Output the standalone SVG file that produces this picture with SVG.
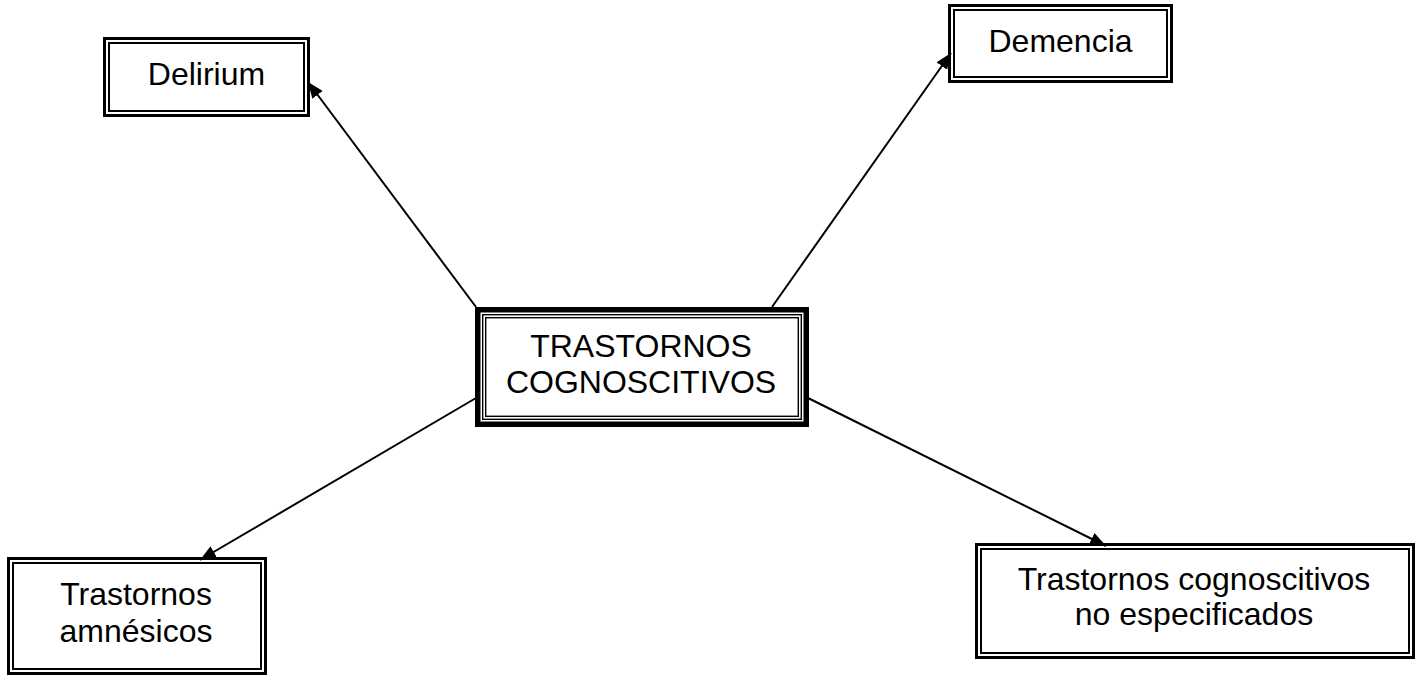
<svg xmlns="http://www.w3.org/2000/svg" width="1425" height="684" viewBox="0 0 1425 684">
  <style>
    .outer { fill: none; stroke: #000; stroke-width: 3; }
    .inner { fill: none; stroke: #000; stroke-width: 2; }
    .thick { fill: #fff; stroke: #000; stroke-width: 5.5; }
    .thin { fill: none; stroke: #000; stroke-width: 1.4; }
    .label { font-family: "Liberation Sans", Arial, sans-serif; font-size: 32px; fill: #000; text-anchor: middle; }
    .edge { stroke: #000; stroke-width: 2; fill: none; marker-end: url(#arrow); }
  </style>
  <defs>
    <marker id="arrow" markerUnits="userSpaceOnUse" markerWidth="18" markerHeight="14" refX="16" refY="6.5" orient="auto">
      <path d="M0,0 L16,6.5 L0,13 Z" fill="#000"/>
    </marker>
  </defs>
  <rect width="1425" height="684" fill="#fff"/>

  <g id="connectors">
    <line class="edge" x1="476" y1="307" x2="308" y2="82"/>
    <line class="edge" x1="772" y1="307" x2="951" y2="53"/>
    <line class="edge" x1="476" y1="398" x2="200" y2="560"/>
    <line class="edge" x1="808" y1="398" x2="1106" y2="546"/>
  </g>

  <g id="center">
    <rect class="thick" x="477.75" y="309.75" width="328.5" height="114.5"/>
    <rect class="thin" x="482.7" y="314.7" width="318.6" height="104.6"/>
    <rect class="thin" x="485.7" y="317.7" width="312.6" height="98.6"/>
    <text class="label" x="641" y="357">TRASTORNOS</text>
    <text class="label" x="641" y="393">COGNOSCITIVOS</text>
  </g>

  <g id="delirium">
    <rect class="outer" x="104.5" y="38.5" width="204" height="77"/>
    <rect class="inner" x="109" y="43" width="195" height="68"/>
    <text class="label" x="206.5" y="85">Delirium</text>
  </g>

  <g id="demencia">
    <rect class="outer" x="949.5" y="5.5" width="222" height="76"/>
    <rect class="inner" x="954" y="10" width="213" height="67"/>
    <text class="label" x="1060.5" y="52">Demencia</text>
  </g>

  <g id="amnesicos">
    <rect class="outer" x="8.5" y="558.5" width="257" height="115"/>
    <rect class="inner" x="13" y="563" width="248" height="106"/>
    <text class="label" x="136" y="605">Trastornos</text>
    <text class="label" x="136" y="642">amnésicos</text>
  </g>

  <g id="no-especificados">
    <rect class="outer" x="976.5" y="544.5" width="437" height="113"/>
    <rect class="inner" x="981" y="549" width="428" height="104"/>
    <text class="label" x="1194" y="590">Trastornos cognoscitivos</text>
    <text class="label" x="1194" y="625">no especificados</text>
  </g>
</svg>
